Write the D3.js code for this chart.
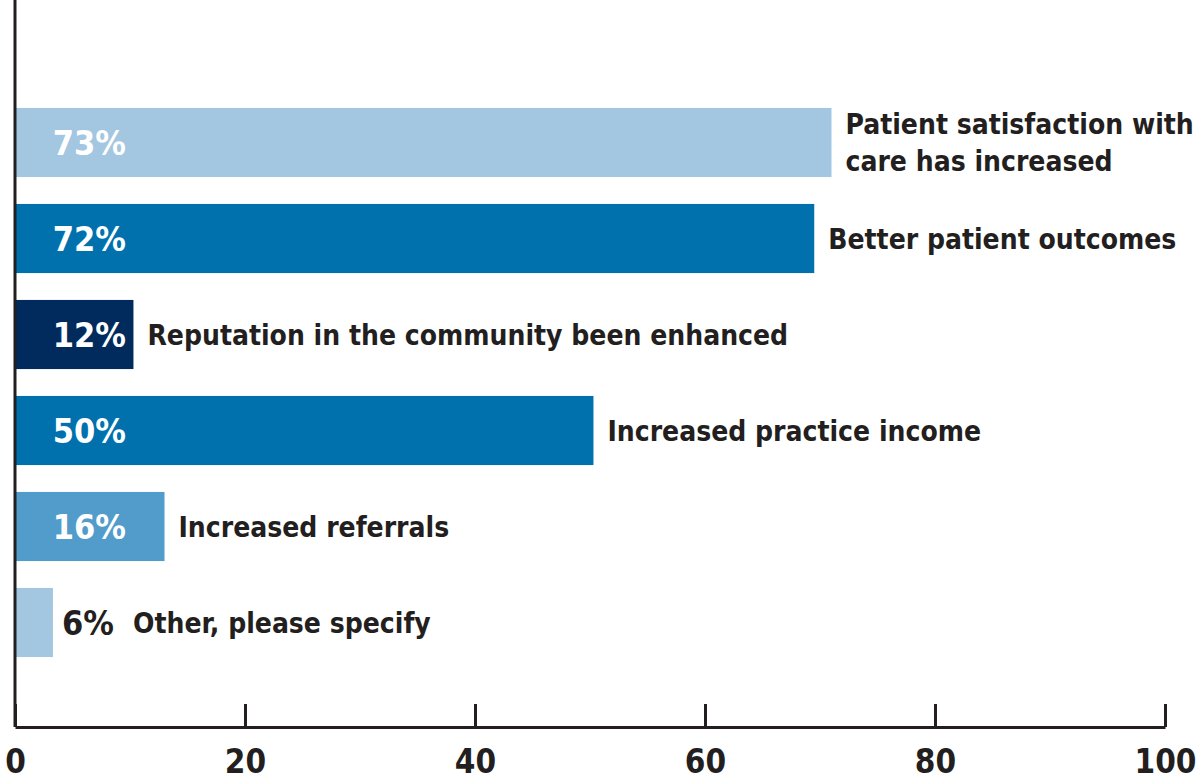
<!DOCTYPE html>
<html>
<head>
<meta charset="utf-8">
<script src="https://cdn.jsdelivr.net/npm/d3@7"></script>
<style>
  body { margin: 0; background: #fff; }
  svg text { font-family: "DejaVu Sans Condensed", "Liberation Sans Narrow", sans-serif; font-weight: bold; }
</style>
</head>
<body>
<div id="chart"></div>
<script>
// labels shown on each bar and the bar lengths as drawn in the picture
const categories = [
  ['Patient satisfaction with', 'care has increased'],
  ['Better patient outcomes'],
  ['Reputation in the community been enhanced'],
  ['Increased practice income'],
  ['Increased referrals'],
  ['Other, please specify'],
];
const percentLabels = ['73%', '72%', '12%', '50%', '16%', '6%'];
const barValues = [71.0, 69.5, 10.3, 50.3, 13.0, 3.3];
const barColours = ['#a3c6e1', '#0071ad', '#002b5c', '#0071ad', '#519cca', '#a3c6e1'];
const tickValues = [0, 20, 40, 60, 80, 100];

const width = 1200;
const height = 782;
const axisY = 727;

const svg = d3.select('#chart').append('svg')
  .attr('width', width)
  .attr('height', height);

const x = d3.scaleLinear().domain([0, 100]).range([15, 1165]);
const y = d3.scaleBand()
  .domain(d3.range(categories.length))
  .range([94.5, 670.5])
  .paddingInner(0.28)
  .paddingOuter(0.14);

// bars
svg.append('g').selectAll('rect')
  .data(barValues)
  .join('rect')
  .attr('x', x(0))
  .attr('y', (d, i) => y(i))
  .attr('width', d => x(d) - x(0))
  .attr('height', y.bandwidth())
  .attr('fill', (d, i) => barColours[i]);

// percentage labels: white inside the bar, dark when the bar is too short
svg.append('g').selectAll('text')
  .data(percentLabels)
  .join('text')
  .attr('y', (d, i) => y(i) + y.bandwidth() / 2)
  .attr('dy', '0.36em')
  .attr('font-size', 34)
  .attr('fill', (d, i) => (barValues[i] > 8 ? '#fff' : '#231f20'))
  .attr('text-anchor', (d, i) => (barValues[i] > 8 ? 'end' : 'start'))
  .attr('x', (d, i) => (barValues[i] > 8 ? 126 : 62))
  .text(d => d);

// category labels sit just right of the bar (or of the outside percentage)
const labelX = (i) => {
  if (barValues[i] > 8) return x(barValues[i]) + 14;
  return 133;
};
const lab = svg.append('g').selectAll('text')
  .data(categories)
  .join('text')
  .attr('x', (d, i) => labelX(i))
  .attr('y', (d, i) => y(i) + y.bandwidth() / 2)
  .attr('font-size', 28)
  .attr('fill', '#231f20');

lab.each(function (lines) {
  const t = d3.select(this);
  const lh = 37;
  const first = -(lines.length - 1) * lh / 2;
  lines.forEach((line, k) => {
    t.append('tspan')
      .attr('x', t.attr('x'))
      .attr('dy', k === 0 ? `${first / 28 + 0.36}em` : `${lh / 28}em`)
      .text(line);
  });
});

// y axis line
svg.append('line')
  .attr('x1', x(0)).attr('x2', x(0))
  .attr('y1', 0).attr('y2', axisY)
  .attr('stroke', '#231f20')
  .attr('stroke-width', 3);

// x axis
const xAxis = svg.append('g')
  .attr('transform', `translate(0,${axisY})`)
  .call(d3.axisBottom(x).tickValues(tickValues).tickSizeInner(-23).tickSizeOuter(0));

xAxis.select('.domain').attr('stroke', '#231f20').attr('stroke-width', 3);
xAxis.selectAll('.tick line').attr('stroke', '#231f20').attr('stroke-width', 3);
xAxis.selectAll('.tick text')
  .attr('y', 46)
  .attr('dy', 0)
  .attr('font-size', 33)
  .attr('font-family', '"DejaVu Sans Condensed", "Liberation Sans Narrow", sans-serif')
  .attr('font-weight', 'bold')
  .attr('fill', '#231f20');
</script>
</body>
</html>
